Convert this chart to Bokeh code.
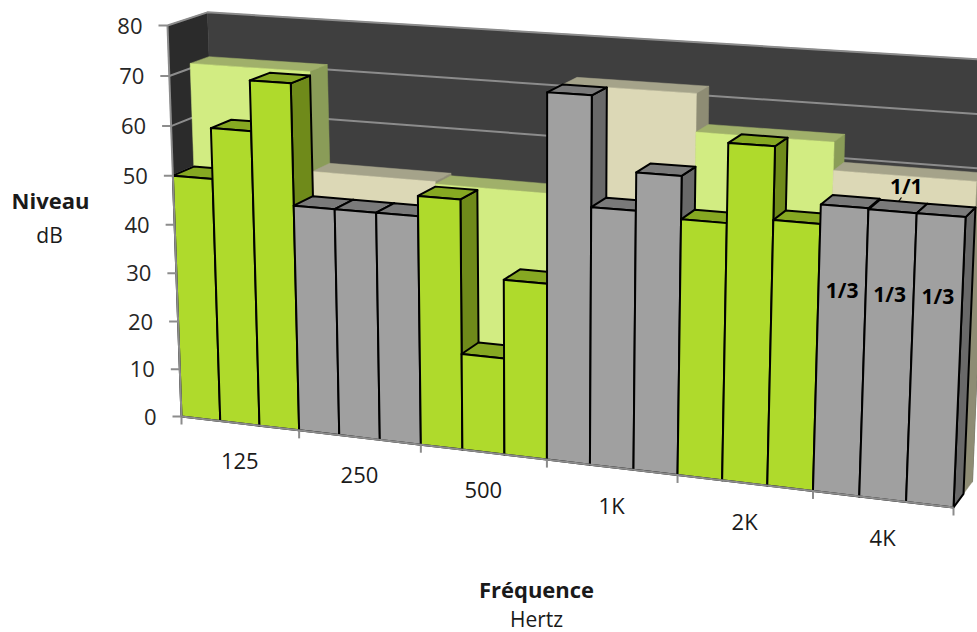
import numpy as np
from bokeh.plotting import figure
from bokeh.models import ColumnDataSource
from bokeh.embed import file_html
from bokeh.resources import INLINE

groups = ["125", "250", "500", "1K", "2K", "4K"]
third_octave = [50, 60.2, 70.2, 46, 46, 46, 50, 19.4, 35, 71.8, 50.6, 57.9, 49.7, 64.7, 51, 54.6, 54.4, 54.4]
octave = [71, 51, 50.5, 71.8, 64.5, 59.2]
y_ticks = [0, 10, 20, 30, 40, 50, 60, 70, 80]
third_label_values = [39, 39, 39.5]

GREEN = dict(front="#AFDA2C", top="#86A822", side="#6F8A1A")
GREY = dict(front="#A0A0A0", top="#7A7A7A", side="#696969")
LGREEN = dict(front="#D2EC82", top="#A0B06A", side="#8A9C58")
BEIGE = dict(front="#DCD8B6", top="#A5A38A", side="#8E8C74")

# camera: front-plane corners and depth vanishing point
src = [(0, 0), (18, 0), (0, 80), (18, 80)]
dst = [(181, 416), (953, 507), (167, 25), (971, 74)]
VP = np.array([1668.0, -470.0])
T_BAR, T_WALL = 0.014, 0.0266

A, b = [], []
for (u, v), (x, y) in zip(src, dst):
    A.append([u, v, 1, 0, 0, 0, -u * x, -v * x]); b.append(x)
    A.append([0, 0, 0, u, v, 1, -u * y, -v * y]); b.append(y)
h = np.linalg.solve(np.array(A, float), np.array(b, float))


def pj(u, v, t=0.0):
    w = h[6] * u + h[7] * v + 1
    P = np.array([(h[0] * u + h[1] * v + h[2]) / w, (h[3] * u + h[4] * v + h[5]) / w])
    return P + t * (VP - P)


def poly(*pts):
    return [float(q[0]) for q in pts], [float(q[1]) for q in pts]


p = figure(width=977, height=632, x_range=(0, 977), y_range=(632, 0), toolbar_location=None,
           output_backend="svg", min_border=0, outline_line_color=None)
p.axis.visible = False
p.grid.visible = False
p.background_fill_color = "white"

faces = dict(xs=[], ys=[], fill=[], line=[], lw=[])


def add(pts, fill, line, lw):
    xs, ys = poly(*pts)
    faces["xs"].append(xs); faces["ys"].append(ys)
    faces["fill"].append(fill); faces["line"].append(line); faces["lw"].append(lw)


def bar(u0, u1, val, t0, t1, col, line, lw):
    add([pj(u1, 0, t0), pj(u1, 0, t1), pj(u1, val, t1), pj(u1, val, t0)], col["side"], line or col["side"], lw)
    add([pj(u0, val, t0), pj(u1, val, t0), pj(u1, val, t1), pj(u0, val, t1)], col["top"], line or col["top"], lw)
    add([pj(u0, 0, t0), pj(u1, 0, t0), pj(u1, val, t0), pj(u0, val, t0)], col["front"], line or col["front"], lw)


# walls
add([pj(0, 0, 0), pj(0, 0, T_WALL), pj(0, 80, T_WALL), pj(0, 80, 0)], "#2B2B2B", "#2B2B2B", 0.5)
add([pj(0, 0, T_WALL), pj(18, 0, T_WALL), pj(18, 80, T_WALL), pj(0, 80, T_WALL)], "#3F3F3F", "#3F3F3F", 0.5)
p.patches("xs", "ys", source=ColumnDataSource(dict(faces)), fill_color="fill", line_color="line", line_width="lw")
for k in faces:
    faces[k] = []

# gridlines on the walls
gx, gy = [], []
for v in y_ticks:
    xs, ys = poly(pj(0, v, 0), pj(0, v, T_WALL), pj(18, v, T_WALL))
    gx.append(xs); gy.append(ys)
p.multi_line(gx, gy, line_color="#8C8C8C", line_width=2)

# bars, far row first, then left to right
for i, val in enumerate(octave):
    bar(3 * i, 3 * i + 3, val, T_BAR, T_WALL, LGREEN if i in (0, 2, 4) else BEIGE, None, 0.5)
for i, val in enumerate(third_octave):
    bar(i, i + 1, val, 0, T_BAR, GREEN if (i // 3) in (0, 2, 4) else GREY, "black", 2)
p.patches("xs", "ys", source=ColumnDataSource(faces), fill_color="fill", line_color="line", line_width="lw",
          line_join="round")

# axis lines and ticks
ax_x, ax_y = [], []
for pts in [(pj(0, 0), pj(18, 0)), (pj(0, 0), pj(0, 80))]:
    xs, ys = poly(*pts)
    ax_x.append(xs); ax_y.append(ys)
for v in y_ticks:
    a = pj(0, v)
    ax_x.append([float(a[0]) - 9, float(a[0])]); ax_y.append([float(a[1]), float(a[1])])
for g in range(7):
    a = pj(3 * g, 0)
    ax_x.append([float(a[0]), float(a[0])]); ax_y.append([float(a[1]), float(a[1]) + 8])
p.multi_line(ax_x, ax_y, line_color="#8C8C8C", line_width=2)

FONT = "Open Sans"


def label(x, y, s, size, bold=False, align="center", color="#1A1A1A"):
    p.text([x], [y], text=[s], text_font={"value": FONT}, text_font_size={"value": size},
           text_font_style="bold" if bold else "normal", text_align=align, text_baseline="middle",
           text_color=color)


for v in y_ticks:
    a = pj(0, v)
    label(float(a[0]) - 25, float(a[1]), str(v), "22px", align="right", color="#262626")
for g, name in enumerate(groups):
    a = pj(3 * g + 1.5, 0)
    label(float(a[0]), float(a[1]) + 38, name, "22px")

label(50, 199, "Niveau", "22px", bold=True)
label(49, 234, "dB", "21px")
label(536, 588, "Fréquence", "22px", bold=True)
label(536, 618, "Hertz", "21px")

# data labels of the 4K group
for u, v in zip([15.5, 16.5, 17.5], third_label_values):
    a = pj(u, v)
    label(float(a[0]), float(a[1]), "1/3", "21px", bold=True, color="black")
a = pj(16.5, octave[5], T_BAR)
label(float(a[0]) + 2, float(a[1]) + 10, "1/1", "21px", bold=True, color="black")
p.line(*poly((901, 197), (898, 201)), line_color="black", line_width=1.2)

open("out.html", "w").write(file_html(p, INLINE))
